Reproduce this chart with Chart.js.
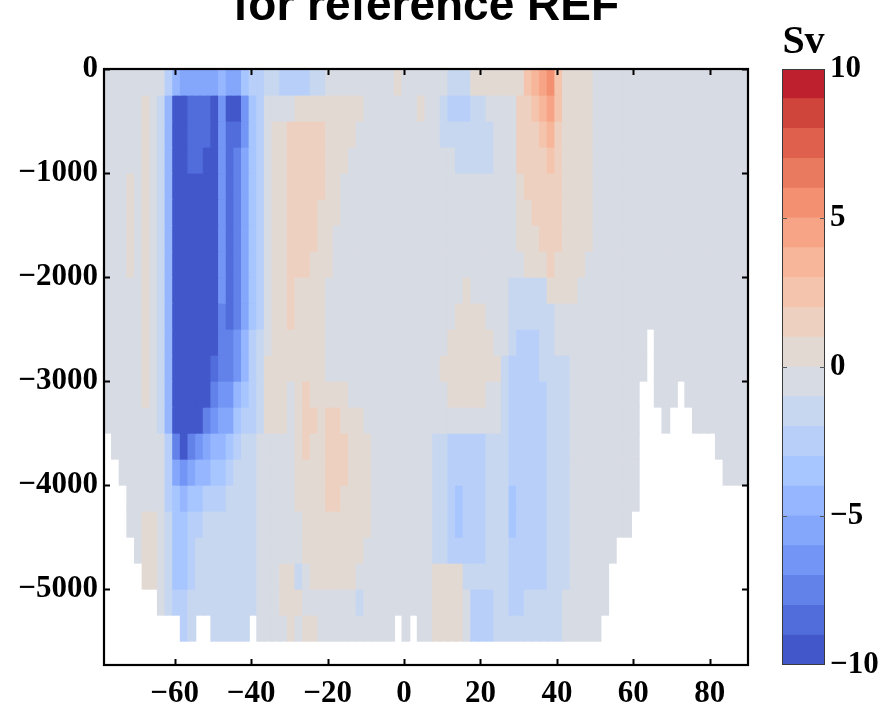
<!DOCTYPE html>
<html>
<head>
<meta charset="utf-8">
<script src="https://cdn.jsdelivr.net/npm/chart.js@4.4.1/dist/chart.umd.min.js"></script>
<style>
html,body{margin:0;padding:0;background:#fff;width:893px;height:706px;overflow:hidden;position:relative}
#c1{position:absolute;left:0;top:-20px}
#c2{position:absolute;left:740px;top:0}
</style>
</head>
<body>
<canvas id="c1" width="893" height="726"></canvas>
<canvas id="c2" width="153" height="706"></canvas>
<script>
// ---------- data ----------
const chartTitle = 'for reference REF';
const unitLabel = 'Sv';
const xTicks = [-60, -40, -20, 0, 20, 40, 60, 80];
const xTickLabels = ['\u221260', '\u221240', '\u221220', '0', '20', '40', '60', '80'];
const yTicks = [0, -1000, -2000, -3000, -4000, -5000];
const yTickLabels = ['0', '\u22121000', '\u22122000', '\u22123000', '\u22124000', '\u22125000'];
const cbarTicks = [10, 5, 0, -5, -10];
const cbarTickLabels = ['10', '5', '0', '\u22125', '\u221210'];
const cbarLevels = [-10,-9,-8,-7,-6,-5,-4,-3,-2,-1,0,1,2,3,4,5,6,7,8,9];

// latitude cell centres (deg), 2-degree cells
const latitudes = [-77.5,-75.5,-73.5,-71.5,-69.5,-67.5,-65.5,-63.5,-61.5,-59.5,-57.5,-55.5,-53.5,-51.5,-49.5,-47.5,-45.5,-43.5,-41.5,-39.5,-37.5,-35.5,-33.5,-31.5,-29.5,-27.5,-25.5,-23.5,-21.5,-19.5,-17.5,-15.5,-13.5,-11.5,-9.5,-7.5,-5.5,-3.5,-1.5,0.5,2.5,4.5,6.5,8.5,10.5,12.5,14.5,16.5,18.5,20.5,22.5,24.5,26.5,28.5,30.5,32.5,34.5,36.5,38.5,40.5,42.5,44.5,46.5,48.5,50.5,52.5,54.5,56.5,58.5,60.5,62.5,64.5,66.5,68.5,70.5,72.5,74.5,76.5,78.5,80.5,82.5,84.5,86.5,88.5,90.5];
// depth layer edges (m)
const depthEdges = [0,250,500,750,1000,1250,1500,1750,2000,2250,2500,2750,3000,3250,3500,3750,4000,4250,4500,4750,5000,5250,5500];

// streamfunction (Sv) per depth layer, null = below topography
const psi_0125 = [-.5,-.5,-.5,-.5,-.5,-.5,-.5,-.5,-2.5,-4.5,
-5.5,-5.5,-5.5,-5.5,-5.5,-4.5,-5.5,-5.5,-3.5,-2.5,
-2.5,-1.5,-1.5,-2.5,-2.5,-2.5,-2.5,-1.5,-1.5,-.5,
-.5,-.5,-.5,-.5,-.5,-.5,-.5,-.5,.5,-.5,
-.5,-.5,-.5,-.5,-.5,-1.5,-1.5,-1.5,.5,.5,
.5,.5,.5,.5,.5,2.5,3.5,4.5,5.5,2.5,
.5,.5,.5,.5,-.5,-.5,-.5,-.5,-.5,-.5,
-.5,-.5,-.5,-.5,-.5,-.5,-.5,-.5,-.5,-.5,
-.5,-.5,-.5,-.5,-.5];
const psi_0375 = [-.5,-.5,-.5,-.5,-.5,.5,-.5,-1.5,-4.5,-9.5,
-9.5,-8.5,-8.5,-8.5,-9.5,-6.5,-9.5,-9.5,-6.5,-3.5,
-2.5,-.5,-.5,-.5,-.5,.5,.5,.5,.5,.5,
.5,.5,.5,.5,-.5,-.5,-.5,-.5,-.5,-.5,
-.5,.5,-.5,-.5,-1.5,-2.5,-2.5,-2.5,-1.5,-1.5,
-.5,-.5,-.5,-.5,1.5,1.5,2.5,3.5,4.5,2.5,
.5,.5,.5,.5,-.5,-.5,-.5,-.5,-.5,-.5,
-.5,-.5,-.5,-.5,-.5,-.5,-.5,-.5,-.5,-.5,
-.5,-.5,-.5,-.5,-.5];
const psi_0625 = [-.5,-.5,-.5,-.5,-.5,.5,-.5,-1.5,-4.5,-9.5,
-9.5,-8.5,-8.5,-8.5,-9.5,-6.5,-8.5,-8.5,-6.5,-3.5,
-2.5,-.5,.5,.5,1.5,1.5,1.5,1.5,1.5,.5,
.5,.5,.5,-.5,-.5,-.5,-.5,-.5,-.5,-.5,
-.5,-.5,-.5,-.5,-1.5,-1.5,-1.5,-1.5,-1.5,-1.5,
-1.5,-.5,-.5,-.5,1.5,1.5,1.5,2.5,3.5,1.5,
.5,.5,.5,.5,-.5,-.5,-.5,-.5,-.5,-.5,
-.5,-.5,-.5,-.5,-.5,-.5,-.5,-.5,-.5,-.5,
-.5,-.5,-.5,-.5,-.5];
const psi_0875 = [-.5,-.5,-.5,-.5,-.5,.5,-.5,-1.5,-4.5,-9.5,
-9.5,-8.5,-8.5,-9.5,-9.5,-6.5,-8.5,-7.5,-5.5,-3.5,
-2.5,-.5,.5,.5,1.5,1.5,1.5,1.5,1.5,.5,
.5,.5,-.5,-.5,-.5,-.5,-.5,-.5,-.5,-.5,
-.5,-.5,-.5,-.5,-.5,-.5,-1.5,-1.5,-1.5,-1.5,
-1.5,-.5,-.5,-.5,1.5,1.5,1.5,1.5,2.5,1.5,
.5,.5,.5,.5,-.5,-.5,-.5,-.5,-.5,-.5,
-.5,-.5,-.5,-.5,-.5,-.5,-.5,-.5,-.5,-.5,
-.5,-.5,-.5,-.5,-.5];
const psi_1125 = [-.5,-.5,-.5,.5,-.5,.5,-.5,-1.5,-4.5,-9.5,
-9.5,-9.5,-9.5,-9.5,-9.5,-6.5,-8.5,-7.5,-5.5,-3.5,
-2.5,-.5,.5,.5,1.5,1.5,1.5,1.5,1.5,.5,
.5,-.5,-.5,-.5,-.5,-.5,-.5,-.5,-.5,-.5,
-.5,-.5,-.5,-.5,-.5,-.5,-.5,-.5,-.5,-.5,
-.5,-.5,-.5,-.5,.5,1.5,1.5,1.5,1.5,1.5,
.5,.5,.5,.5,-.5,-.5,-.5,-.5,-.5,-.5,
-.5,-.5,-.5,-.5,-.5,-.5,-.5,-.5,-.5,-.5,
-.5,-.5,-.5,-.5,-.5];
const psi_1375 = [-.5,-.5,-.5,.5,-.5,.5,-.5,-1.5,-4.5,-9.5,
-9.5,-9.5,-9.5,-9.5,-9.5,-6.5,-8.5,-7.5,-5.5,-3.5,
-2.5,-.5,.5,.5,1.5,1.5,1.5,1.5,.5,.5,
.5,-.5,-.5,-.5,-.5,-.5,-.5,-.5,-.5,-.5,
-.5,-.5,-.5,-.5,-.5,-.5,-.5,-.5,-.5,-.5,
-.5,-.5,-.5,-.5,.5,.5,1.5,1.5,1.5,1.5,
.5,.5,.5,.5,-.5,-.5,-.5,-.5,-.5,-.5,
-.5,-.5,-.5,-.5,-.5,-.5,-.5,-.5,-.5,-.5,
-.5,-.5,-.5,-.5,-.5];
const psi_1625 = [-.5,-.5,-.5,.5,-.5,.5,-.5,-1.5,-4.5,-9.5,
-9.5,-9.5,-9.5,-9.5,-9.5,-6.5,-8.5,-7.5,-5.5,-3.5,
-2.5,-.5,.5,.5,1.5,1.5,1.5,1.5,.5,.5,
-.5,-.5,-.5,-.5,-.5,-.5,-.5,-.5,-.5,-.5,
-.5,-.5,-.5,-.5,-.5,-.5,-.5,-.5,-.5,-.5,
-.5,-.5,-.5,-.5,.5,.5,.5,1.5,1.5,1.5,
.5,.5,.5,.5,-.5,-.5,-.5,-.5,-.5,-.5,
-.5,-.5,-.5,-.5,-.5,-.5,-.5,-.5,-.5,-.5,
-.5,-.5,-.5,-.5,-.5];
const psi_1875 = [-.5,-.5,-.5,.5,-.5,.5,-.5,-1.5,-4.5,-9.5,
-9.5,-9.5,-9.5,-9.5,-9.5,-6.5,-8.5,-7.5,-5.5,-3.5,
-2.5,-.5,.5,.5,1.5,1.5,1.5,.5,.5,.5,
-.5,-.5,-.5,-.5,-.5,-.5,-.5,-.5,-.5,-.5,
-.5,-.5,-.5,-.5,-.5,-.5,-.5,-.5,-.5,-.5,
-.5,-.5,-.5,-.5,-.5,.5,.5,.5,1.5,.5,
.5,.5,.5,-.5,-.5,-.5,-.5,-.5,-.5,-.5,
-.5,-.5,-.5,-.5,-.5,-.5,-.5,-.5,-.5,-.5,
-.5,-.5,-.5,-.5,-.5];
const psi_2125 = [-.5,-.5,-.5,-.5,-.5,.5,-.5,-1.5,-4.5,-9.5,
-9.5,-9.5,-9.5,-9.5,-9.5,-6.5,-8.5,-7.5,-5.5,-3.5,
-2.5,-.5,.5,.5,1.5,.5,.5,.5,.5,-.5,
-.5,-.5,-.5,-.5,-.5,-.5,-.5,-.5,-.5,-.5,
-.5,-.5,-.5,-.5,-.5,-.5,-.5,.5,-.5,-.5,
-.5,-.5,-.5,-1.5,-1.5,-1.5,-1.5,-1.5,.5,.5,
.5,.5,-.5,-.5,-.5,-.5,-.5,-.5,-.5,-.5,
-.5,-.5,-.5,-.5,-.5,-.5,-.5,-.5,-.5,-.5,
-.5,-.5,-.5,-.5,-.5];
const psi_2375 = [-.5,-.5,-.5,-.5,-.5,.5,-.5,-1.5,-4.5,-9.5,
-9.5,-9.5,-9.5,-9.5,-9.5,-7.5,-8.5,-7.5,-5.5,-3.5,
-2.5,-.5,.5,.5,1.5,.5,.5,.5,.5,-.5,
-.5,-.5,-.5,-.5,-.5,-.5,-.5,-.5,-.5,-.5,
-.5,-.5,-.5,-.5,-.5,-.5,.5,.5,.5,.5,
-.5,-.5,-.5,-1.5,-1.5,-1.5,-1.5,-1.5,-1.5,-.5,
-.5,-.5,-.5,-.5,-.5,-.5,-.5,-.5,-.5,-.5,
-.5,-.5,-.5,-.5,-.5,-.5,-.5,-.5,-.5,-.5,
-.5,-.5,-.5,-.5,-.5];
const psi_2625 = [-.5,-.5,-.5,-.5,-.5,.5,-.5,-1.5,-4.5,-9.5,
-9.5,-9.5,-9.5,-9.5,-9.5,-7.5,-7.5,-6.5,-4.5,-2.5,
-1.5,-.5,.5,.5,.5,.5,.5,.5,.5,-.5,
-.5,-.5,-.5,-.5,-.5,-.5,-.5,-.5,-.5,-.5,
-.5,-.5,-.5,-.5,-.5,.5,.5,.5,.5,.5,
.5,-.5,-.5,-1.5,-2.5,-2.5,-2.5,-1.5,-1.5,-.5,
-.5,-.5,-.5,-.5,-.5,-.5,-.5,-.5,-.5,-.5,
-.5,null,-.5,-.5,-.5,-.5,-.5,-.5,-.5,-.5,
-.5,-.5,-.5,-.5,-.5];
const psi_2875 = [-.5,-.5,-.5,-.5,-.5,.5,-.5,-1.5,-4.5,-9.5,
-9.5,-9.5,-9.5,-9.5,-8.5,-7.5,-7.5,-6.5,-4.5,-2.5,
-1.5,.5,.5,.5,.5,.5,.5,.5,.5,-.5,
-.5,-.5,-.5,-.5,-.5,-.5,-.5,-.5,-.5,-.5,
-.5,-.5,-.5,-.5,.5,.5,.5,.5,.5,.5,
.5,.5,-1.5,-2.5,-2.5,-2.5,-2.5,-1.5,-1.5,-1.5,
-1.5,-.5,-.5,-.5,-.5,-.5,-.5,-.5,-.5,-.5,
-.5,null,-.5,-.5,-.5,-.5,-.5,-.5,-.5,-.5,
-.5,-.5,-.5,-.5,-.5];
const psi_3125 = [-.5,-.5,-.5,-.5,-.5,.5,-.5,-1.5,-4.5,-9.5,
-9.5,-9.5,-9.5,-9.5,-7.5,-6.5,-6.5,-4.5,-3.5,-2.5,
-1.5,.5,.5,.5,-.5,.5,1.5,.5,.5,.5,
.5,.5,-.5,-.5,-.5,-.5,-.5,-.5,-.5,-.5,
-.5,-.5,-.5,-.5,-.5,.5,.5,.5,.5,.5,
-.5,-.5,-1.5,-2.5,-2.5,-2.5,-2.5,-2.5,-1.5,-1.5,
-1.5,-.5,-.5,-.5,-.5,-.5,-.5,-.5,-.5,-.5,
null,null,-.5,-.5,-.5,null,-.5,-.5,-.5,-.5,
-.5,-.5,-.5,-.5,-.5];
const psi_3375 = [-.5,-.5,-.5,-.5,-.5,-.5,-.5,-1.5,-4.5,-9.5,
-9.5,-9.5,-9.5,-7.5,-6.5,-5.5,-5.5,-3.5,-2.5,-2.5,
-1.5,.5,.5,.5,-.5,.5,1.5,1.5,.5,1.5,
1.5,.5,.5,.5,-.5,-.5,-.5,-.5,-.5,-.5,
-.5,-.5,-.5,-.5,-.5,-.5,-.5,-.5,-.5,-.5,
-.5,-.5,-1.5,-2.5,-2.5,-2.5,-2.5,-2.5,-1.5,-1.5,
-1.5,-.5,-.5,-.5,-.5,-.5,-.5,-.5,-.5,-.5,
null,null,null,-.5,null,null,null,-.5,-.5,-.5,
-.5,-.5,-.5,-.5,-.5];
const psi_3625 = [null,-.5,-.5,-.5,-.5,-.5,-.5,-.5,-2.5,-7.5,
-9.5,-7.5,-6.5,-5.5,-4.5,-4.5,-3.5,-2.5,-1.5,-1.5,
-.5,-.5,-.5,-.5,-.5,.5,1.5,.5,.5,1.5,
1.5,1.5,.5,.5,.5,-.5,-.5,-.5,-.5,-.5,
-.5,-.5,-.5,-1.5,-1.5,-2.5,-2.5,-2.5,-2.5,-2.5,
-1.5,-1.5,-1.5,-2.5,-2.5,-2.5,-2.5,-2.5,-1.5,-1.5,
-1.5,-.5,-.5,-.5,-.5,-.5,-.5,-.5,-.5,-.5,
null,null,null,null,null,null,null,null,null,null,
-.5,-.5,-.5,-.5,-.5];
const psi_3875 = [null,null,-.5,-.5,-.5,-.5,-.5,-.5,-2.5,-5.5,
-6.5,-5.5,-4.5,-4.5,-3.5,-3.5,-2.5,-1.5,-1.5,-1.5,
-.5,-.5,-.5,-.5,-.5,.5,.5,.5,.5,1.5,
1.5,1.5,.5,.5,.5,-.5,-.5,-.5,-.5,-.5,
-.5,-.5,-.5,-1.5,-1.5,-2.5,-2.5,-2.5,-2.5,-2.5,
-1.5,-1.5,-1.5,-2.5,-2.5,-2.5,-2.5,-2.5,-1.5,-1.5,
-1.5,-.5,-.5,-.5,-.5,-.5,-.5,-.5,-.5,-.5,
null,null,null,null,null,null,null,null,null,null,
null,-.5,-.5,-.5,-.5];
const psi_4125 = [null,null,null,-.5,-.5,-.5,-.5,-.5,-2.5,-3.5,
-4.5,-3.5,-3.5,-2.5,-2.5,-2.5,-1.5,-1.5,-1.5,-1.5,
-.5,-.5,-.5,-.5,-.5,.5,.5,.5,.5,1.5,
1.5,.5,.5,.5,.5,-.5,-.5,-.5,-.5,-.5,
-.5,-.5,-.5,-1.5,-1.5,-2.5,-3.5,-2.5,-2.5,-2.5,
-1.5,-1.5,-1.5,-3.5,-2.5,-2.5,-2.5,-2.5,-1.5,-1.5,
-1.5,-.5,-.5,-.5,-.5,-.5,-.5,-.5,-.5,-.5,
null,null,null,null,null,null,null,null,null,null,
null,null,null,null,null];
const psi_4375 = [null,null,null,-.5,-.5,.5,.5,-.5,-1.5,-3.5,
-3.5,-2.5,-2.5,-1.5,-1.5,-1.5,-1.5,-1.5,-1.5,-1.5,
-.5,-.5,-.5,-.5,-.5,-.5,.5,.5,.5,.5,
.5,.5,.5,.5,.5,-.5,-.5,-.5,-.5,-.5,
-.5,-.5,-.5,-1.5,-1.5,-2.5,-3.5,-2.5,-2.5,-2.5,
-1.5,-1.5,-1.5,-3.5,-2.5,-2.5,-2.5,-2.5,-1.5,-1.5,
-1.5,-.5,-.5,-.5,-.5,-.5,-.5,-.5,-.5,null,
null,null,null,null,null,null,null,null,null,null,
null,null,null,null,null];
const psi_4625 = [null,null,null,null,-.5,.5,.5,-.5,-1.5,-3.5,
-3.5,-2.5,-1.5,-1.5,-1.5,-1.5,-1.5,-1.5,-1.5,-1.5,
-.5,-.5,-.5,-.5,-.5,-.5,.5,.5,.5,.5,
.5,.5,.5,.5,-.5,-.5,-.5,-.5,-.5,-.5,
-.5,-.5,-.5,-1.5,-1.5,-2.5,-2.5,-2.5,-2.5,-2.5,
-1.5,-1.5,-1.5,-2.5,-2.5,-2.5,-2.5,-2.5,-1.5,-1.5,
-1.5,-.5,-.5,-.5,-.5,-.5,-.5,null,null,null,
null,null,null,null,null,null,null,null,null,null,
null,null,null,null,null];
const psi_4875 = [null,null,null,null,null,.5,.5,-.5,-1.5,-3.5,
-3.5,-2.5,-1.5,-1.5,-1.5,-1.5,-1.5,-1.5,-1.5,-1.5,
-.5,-.5,-.5,.5,.5,-1.5,-.5,.5,.5,.5,
.5,.5,.5,-.5,-.5,-.5,-.5,-.5,-.5,-.5,
-.5,-.5,-.5,.5,.5,.5,.5,-1.5,-1.5,-1.5,
-1.5,-1.5,-1.5,-2.5,-2.5,-2.5,-2.5,-2.5,-1.5,-1.5,
-1.5,-.5,-.5,-.5,-.5,-.5,null,null,null,null,
null,null,null,null,null,null,null,null,null,null,
null,null,null,null,null];
const psi_5125 = [null,null,null,null,null,null,null,-.5,-1.5,-2.5,
-2.5,-1.5,-1.5,-1.5,-1.5,-1.5,-1.5,-1.5,-1.5,-1.5,
-.5,-.5,-.5,.5,.5,.5,-.5,-.5,-.5,-.5,
-.5,-.5,-.5,-1.5,-.5,-.5,-.5,-.5,-.5,-.5,
-.5,-.5,-.5,.5,.5,.5,.5,-.5,-2.5,-2.5,
-2.5,-1.5,-1.5,-2.5,-2.5,-1.5,-1.5,-1.5,-1.5,-1.5,
-.5,-.5,-.5,-.5,-.5,-.5,null,null,null,null,
null,null,null,null,null,null,null,null,null,null,
null,null,null,null,null];
const psi_5375 = [null,null,null,null,null,null,null,null,null,null,
-2.5,-1.5,null,null,-1.5,-1.5,-1.5,-1.5,-1.5,null,
-.5,-.5,-.5,-.5,.5,-.5,.5,.5,-.5,-.5,
-.5,-.5,-.5,-.5,-.5,-.5,-.5,-.5,null,-.5,
null,-.5,-.5,.5,.5,.5,.5,-.5,-2.5,-2.5,
-2.5,-1.5,-1.5,-1.5,-1.5,-1.5,-1.5,-1.5,-1.5,-1.5,
-.5,-.5,-.5,-.5,-.5,null,null,null,null,null,
null,null,null,null,null,null,null,null,null,null,
null,null,null,null,null];

const psiRows = [psi_0125, psi_0375, psi_0625, psi_0875, psi_1125, psi_1375, psi_1625, psi_1875,
  psi_2125, psi_2375, psi_2625, psi_2875, psi_3125, psi_3375, psi_3625, psi_3875,
  psi_4125, psi_4375, psi_4625, psi_4875, psi_5125, psi_5375];

// ---------- colour map (coolwarm, 20 discrete levels) ----------
const coolwarm = [[59,76,192],[68,90,204],[77,104,215],[87,117,225],[98,130,234],[108,142,241],[119,154,247],[130,165,251],[141,176,254],[152,185,255],[163,194,255],[174,201,253],[184,208,249],[194,213,244],[204,217,238],[213,219,230],[221,221,221],[229,216,209],[236,211,197],[241,204,185],[245,196,173],[247,187,160],[247,177,148],[247,166,135],[244,154,123],[241,141,111],[236,127,99],[229,112,88],[222,96,77],[213,80,66],[203,62,56],[192,40,47],[180,4,38]];
function cmap(t) {
  const p = Math.max(0, Math.min(1, t)) * 32;
  const i = Math.min(31, Math.floor(p));
  const f = p - i;
  const a = coolwarm[i], b = coolwarm[i + 1];
  const c = [0, 1, 2].map(k => Math.round(a[k] + (b[k] - a[k]) * f));
  return 'rgb(' + c.join(',') + ')';
}
function bandColor(v) {
  const k = Math.max(0, Math.min(19, Math.floor(v + 10)));
  return cmap((k + 0.5) / 20);
}

const serif = "'Liberation Serif','Times New Roman',serif";
const tickFont = { family: serif, size: 31, weight: 'bold' };

// ---------- main chart ----------
const datasets = psiRows.map((row, j) => ({
  data: row.map((v, i) => v === null ? null : { x: latitudes[i], y: [-depthEdges[j], -depthEdges[j + 1]], v: v }).filter(Boolean),
  backgroundColor: c => (c.raw && c.raw.v !== undefined) ? bandColor(c.raw.v) : '#ffffff',
  borderWidth: 0,
  grouped: false,
  barPercentage: 1,
  categoryPercentage: 1,
  inflateAmount: 0.6
}));

const framePlugin = {
  id: 'frame',
  afterDraw(chart) {
    const { ctx, chartArea: a, scales } = chart;
    const x = scales.x, y = scales.y;
    ctx.save();
    ctx.strokeStyle = '#000';
    ctx.lineWidth = 2.2;
    ctx.strokeRect(a.left, a.top, a.right - a.left, a.bottom - a.top);
    ctx.lineWidth = 2;
    const L = 6;
    ctx.beginPath();
    xTicks.forEach(v => {
      const px = Math.round(x.getPixelForValue(v)) + 0.5;
      ctx.moveTo(px, a.bottom); ctx.lineTo(px, a.bottom - L);
      ctx.moveTo(px, a.top); ctx.lineTo(px, a.top + L);
    });
    yTicks.forEach(v => {
      const py = Math.round(y.getPixelForValue(v)) + 0.5;
      ctx.moveTo(a.left, py); ctx.lineTo(a.left + L, py);
      ctx.moveTo(a.right, py); ctx.lineTo(a.right - L, py);
    });
    ctx.stroke();
    ctx.restore();
  }
};

new Chart(document.getElementById('c1'), {
  type: 'bar',
  data: { datasets: datasets },
  options: {
    responsive: false,
    animation: false,
    devicePixelRatio: 1,
    events: [],
    layout: { padding: { left: 0, right: 145, top: 0, bottom: 0 } },
    plugins: {
      legend: { display: false },
      tooltip: { enabled: false },
      title: {
        display: true,
        text: chartTitle,
        fullSize: false,
        color: '#000',
        font: { family: "'Liberation Sans',Arial,sans-serif", size: 46, weight: 'bold' },
        padding: { top: 0, bottom: 33.8 }
      }
    },
    scales: {
      x: {
        type: 'linear',
        min: -78.5,
        max: 90,
        offset: false,
        grid: { display: false, drawTicks: false, offset: false },
        border: { display: false },
        ticks: {
          color: '#000', font: tickFont, padding: 10, maxRotation: 0, minRotation: 0, autoSkip: false,
          callback: v => { const k = xTicks.indexOf(v); return k >= 0 ? xTickLabels[k] : ''; }
        },
        afterBuildTicks: s => { s.ticks = xTicks.map(v => ({ value: v })); },
        afterFit: s => { s.height = 41; }
      },
      y: {
        type: 'linear',
        min: -5730,
        max: 0,
        grid: { display: false, drawTicks: false },
        border: { display: false },
        ticks: {
          color: '#000', font: tickFont, padding: 6, autoSkip: false,
          callback: v => { const k = yTicks.indexOf(v); return k >= 0 ? yTickLabels[k] : ''; }
        },
        afterBuildTicks: s => { s.ticks = yTicks.map(v => ({ value: v })); },
        afterFit: s => { s.width = 104; }
      }
    }
  },
  plugins: [framePlugin]
});

// ---------- colour bar ----------
const cbarPlugin = {
  id: 'cbarFrame',
  afterDraw(chart) {
    const { ctx, chartArea: a, scales } = chart;
    const y = scales.y;
    ctx.save();
    ctx.strokeStyle = '#3a3a3a';
    ctx.lineWidth = 1;
    ctx.strokeRect(a.left + 0.5, a.top + 0.5, a.right - a.left - 1, a.bottom - a.top - 1);
    ctx.strokeStyle = '#555';
    ctx.beginPath();
    [5, 0, -5].forEach(v => {
      const py = Math.round(y.getPixelForValue(v)) + 0.5;
      ctx.moveTo(a.left, py); ctx.lineTo(a.left + 5, py);
      ctx.moveTo(a.right, py); ctx.lineTo(a.right - 5, py);
    });
    ctx.stroke();
    ctx.restore();
  }
};

new Chart(document.getElementById('c2'), {
  type: 'bar',
  data: {
    labels: [unitLabel],
    datasets: cbarLevels.map(l => ({
      data: [[l, l + 1]],
      backgroundColor: bandColor(l + 0.5),
      borderWidth: 0,
      grouped: false,
      barPercentage: 1,
      categoryPercentage: 1,
      inflateAmount: 0.5
    }))
  },
  options: {
    responsive: false,
    animation: false,
    devicePixelRatio: 1,
    events: [],
    layout: { padding: { left: 42, right: 0, top: 0, bottom: 41 } },
    plugins: {
      legend: { display: false },
      tooltip: { enabled: false },
      title: {
        display: true,
        text: unitLabel,
        fullSize: false,
        color: '#000',
        font: { family: serif, size: 40, weight: 'bold' },
        padding: { top: 18.5, bottom: 2.5 }
      }
    },
    scales: {
      x: { display: false },
      y: {
        position: 'right',
        min: -10,
        max: 10,
        grid: { display: false, drawTicks: false },
        border: { display: false },
        ticks: {
          color: '#000', font: tickFont, padding: 5, autoSkip: false,
          callback: v => { const k = cbarTicks.indexOf(v); return k >= 0 ? cbarTickLabels[k] : ''; }
        },
        afterBuildTicks: s => { s.ticks = cbarTicks.map(v => ({ value: v })); },
        afterFit: s => { s.width = 68; }
      }
    }
  },
  plugins: [cbarPlugin]
});
</script>
</body>
</html>
